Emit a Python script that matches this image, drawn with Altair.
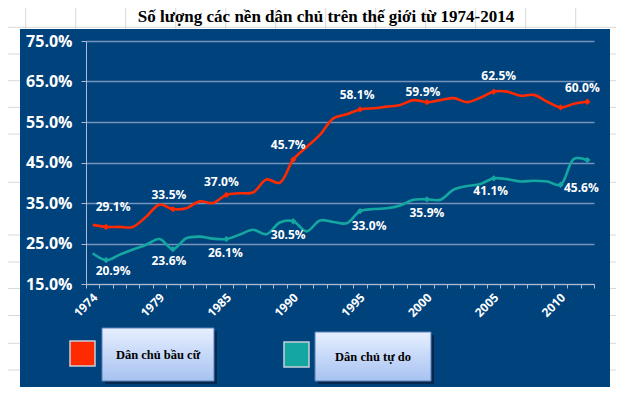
import altair as alt
import pandas as pd

# ---------------- data ----------------
title_text = "Số lượng các nền dân chủ trên thế giới từ 1974-2014"
series_names = ["Dân chủ bầu cữ", "Dân chủ tự do"]
series_colors = ["#FF2A00", "#14A6A1"]

years = [1974, 1975, 1976, 1977, 1978, 1979, 1980, 1981, 1983, 1984,
         1985, 1986, 1987, 1988, 1989, 1990, 1991, 1992, 1993, 1994,
         1995, 1996, 1997, 1998, 1999, 2000, 2001, 2002, 2003, 2004,
         2005, 2006, 2007, 2008, 2009, 2010, 2011, 2012]

electoral = [29.6, 29.1, 29.1, 29.1, 31.6, 34.6, 33.5, 33.7, 35.4, 35.0,
             37.0, 37.4, 37.6, 40.8, 40.0, 45.7, 48.8, 51.8, 55.9, 56.9,
             58.1, 58.4, 58.8, 59.2, 60.4, 59.9, 60.4, 60.9, 59.9, 61.0,
             62.5, 62.5, 61.5, 61.7, 60.0, 58.6, 59.5, 60.0]

liberal = [22.6, 20.9, 22.2, 23.5, 24.7, 26.1, 23.6, 26.3, 26.7, 26.2,
           26.1, 27.2, 28.4, 27.3, 30.2, 30.5, 28.0, 30.7, 30.3, 30.0,
           33.0, 33.5, 33.7, 34.4, 35.8, 35.9, 35.8, 38.3, 39.2, 39.7,
           41.1, 40.9, 40.3, 40.5, 40.3, 39.5, 45.9, 45.6]

label_idx = [1, 6, 10, 15, 20, 25, 30, 37]
marker_idx = [1, 6, 10, 15, 20, 25, 30, 35, 37]
x_label_idx = [0, 5, 10, 15, 20, 25, 30, 35]
y_ticks = [15, 25, 35, 45, 55, 65, 75]

# ---------------- style ----------------
PANEL = "#00427C"
GRID = "#7693BA"
AXIS = "#AEBBD0"
SHEET = "#D9D9D9"
FONT = "Open Sans"
PLOT_W, PLOT_H = 508, 243

# per-label pixel nudges (dx, dy) relative to the point
label_nudges = {
    series_names[0]: [(7, -20), (-4, -14), (-5, -13), (-5, -15), (-3, -14), (-4, -10), (5, -16), (-5, -14)],
    series_names[1]: [(7, 11), (-4, 12), (-1, 14), (-5, 14), (9, 15), (0, 14), (-3, 13), (-6, 28)],
}

# ---------------- tables ----------------
rows = []
for name, vals in zip(series_names, [electoral, liberal]):
    for i, (yr, v) in enumerate(zip(years, vals)):
        rows.append({"series": name, "idx": i, "year": yr, "value": v})
df = pd.DataFrame(rows)

markers = df[df["idx"].isin(marker_idx)]

n = len(years)
x_per_px = n / PLOT_W
y_per_px = (y_ticks[-1] - y_ticks[0]) / PLOT_H

lab_rows = []
for name, vals in zip(series_names, [electoral, liberal]):
    for k, i in enumerate(label_idx):
        dx, dy = label_nudges[name][k]
        lab_rows.append({"series": name, "idx": i, "value": vals[i],
                         "label": f"{vals[i]:.1f}%",
                         "lx": i + dx * x_per_px, "ly": vals[i] - dy * y_per_px})
labels_df = pd.DataFrame(lab_rows)

x_scale = alt.Scale(domain=[-0.5, n - 0.5], nice=False, zero=False)
y_scale = alt.Scale(domain=[y_ticks[0], y_ticks[-1]], nice=False, zero=False)
color_scale = alt.Scale(domain=series_names, range=series_colors)

boundaries = [i - 0.5 for i in range(n + 1)]
expr = "''"
for i in reversed(x_label_idx):
    expr = f"datum.value == {i - 0.5} ? '{years[i]}' : ({expr})"

x_axis = alt.Axis(values=boundaries, labelExpr=expr, labelAngle=-45,
                  labelAlign="right", labelBaseline="middle", labelOffset=9,
                  labelPadding=7, tickSize=4, tickColor=AXIS, domainColor=AXIS,
                  labelColor="white", labelFont=FONT, labelFontSize=12,
                  labelFontWeight="bold", grid=False, title=None,
                  labelOverlap=False, labelBound=False, labelFlush=False)
y_axis = alt.Axis(values=y_ticks, labelExpr="format(datum.value, '.1f') + '%'",
                  tickSize=5, labelPadding=9, tickColor=AXIS, domainColor=AXIS,
                  grid=True, gridColor=GRID, gridWidth=1.3, labelColor="white",
                  labelFont=FONT, labelFontSize=16, labelFontWeight="bold",
                  title=None)

X = alt.X("idx:Q", scale=x_scale, axis=x_axis)
Y = alt.Y("value:Q", scale=y_scale, axis=y_axis)
C = alt.Color("series:N", scale=color_scale, legend=None)

lines = alt.Chart(df).mark_line(interpolate="catmull-rom", strokeWidth=2.6).encode(x=X, y=Y, color=C)
points = alt.Chart(markers).mark_point(shape="diamond", filled=True, size=40, opacity=1).encode(x=X, y=Y, color=C)
texts = alt.Chart(labels_df).mark_text(font=FONT, fontSize=12, fontWeight="bold", color="white",
                                       align="center", baseline="middle").encode(
    x=alt.X("lx:Q", scale=x_scale, axis=x_axis),
    y=alt.Y("ly:Q", scale=y_scale, axis=y_axis),
    text="label:N")

# ---------------- decoration (spreadsheet margins around the panel) ----------------
strips = pd.DataFrame([
    {"x": -78, "x2": -66, "y": -33, "y2": 347},
    {"x": -78, "x2": 530, "y": -33, "y2": -12},
    {"x": 524, "x2": 530, "y": -33, "y2": 347},
    {"x": -78, "x2": 530, "y": 346, "y2": 347},
])
strip_layer = alt.Chart(strips).mark_rect(color="white").encode(
    x=alt.X("x:Q", scale=None), x2="x2", y=alt.Y("y:Q", scale=None), y2="y2")

sheet_lines = []
for k in range(12):
    xv = -60.3 + 50 * k
    sheet_lines.append({"x": xv, "x2": xv, "y": -33, "y2": -12})
sheet_lines.append({"x": -78, "x2": 530, "y": -13.7, "y2": -13.7})
for yv in [13, 39.7, 66.4, 93.1, 141.3, 194, 221, 247.5, 274.5, 302.3, 329]:
    sheet_lines.append({"x": -78, "x2": -66, "y": yv, "y2": yv})
    sheet_lines.append({"x": 524, "x2": 530, "y": yv, "y2": yv})
sheet_df = pd.DataFrame(sheet_lines)
sheet_layer = alt.Chart(sheet_df).mark_rule(color=SHEET, strokeWidth=1).encode(
    x=alt.X("x:Q", scale=None), x2="x2", y=alt.Y("y:Q", scale=None), y2="y2")

title_layer = alt.Chart(pd.DataFrame({"t": [title_text]})).mark_text(
    font="Liberation Serif", fontSize=17, fontWeight="bold", color="black",
    align="center", baseline="alphabetic").encode(
    text="t:N", x=alt.value(240), y=alt.value(-19))

# ---------------- legend (Excel-style boxes) ----------------
legend_layout = [
    {"sx": -16, "sy": 300, "bx": 16, "bx2": 128, "by": 287, "by2": 340},
    {"sx": 198, "sy": 301, "bx": 229, "bx2": 345, "by": 291, "by2": 340},
]
leg_rows = []
for name, col, L in zip(series_names, series_colors, legend_layout):
    leg_rows.append({"series": name, "color": col,
                     "sx": L["sx"], "sx2": L["sx"] + 25, "sy": L["sy"], "sy2": L["sy"] + 25,
                     "bx": L["bx"], "bx2": L["bx2"], "by": L["by"], "by2": L["by2"],
                     "shx": L["bx"] + 3, "shx2": L["bx2"] + 3, "shy": L["by"] + 3, "shy2": L["by2"] + 3,
                     "tx": (L["bx"] + L["bx2"]) / 2, "ty": (L["by"] + L["by2"]) / 2})
leg_df = pd.DataFrame(leg_rows)

leg_squares = alt.Chart(leg_df).mark_rect(stroke="#C9CFDA", strokeWidth=1.5).encode(
    x=alt.X("sx:Q", scale=None), x2="sx2", y=alt.Y("sy:Q", scale=None), y2="sy2",
    fill=alt.Fill("series:N", scale=color_scale, legend=None))
leg_shadow = alt.Chart(leg_df).mark_rect(color="#0A2240", opacity=0.75).encode(
    x=alt.X("shx:Q", scale=None), x2="shx2", y=alt.Y("shy:Q", scale=None), y2="shy2")
grad = alt.Gradient(gradient="linear", x1=0, x2=0, y1=0, y2=1,
                    stops=[alt.GradientStop(color="#E6EFFF", offset=0),
                           alt.GradientStop(color="#A7C2F1", offset=1)])
leg_boxes = alt.Chart(leg_df).mark_rect(fill=grad, stroke="#5B80B8", strokeWidth=1).encode(
    x=alt.X("bx:Q", scale=None), x2="bx2", y=alt.Y("by:Q", scale=None), y2="by2")
leg_text = alt.Chart(leg_df).mark_text(font="Liberation Serif", fontSize=12.5, fontWeight="bold",
                                       color="black", align="center", baseline="middle").encode(
    x=alt.X("tx:Q", scale=None), y=alt.Y("ty:Q", scale=None), text="series:N")

chart = alt.layer(
    strip_layer, sheet_layer, title_layer,
    lines, points, texts,
    leg_shadow, leg_boxes, leg_text, leg_squares,
).resolve_scale(fill="independent").properties(
    width=PLOT_W, height=PLOT_H,
    autosize=alt.AutoSizeParams(type="none"),
    padding={"left": 78, "top": 33, "right": 22, "bottom": 104},
    background=PANEL,
).configure_view(stroke=None)

chart.save("out.html", embed_options={"renderer": "svg", "actions": False})
